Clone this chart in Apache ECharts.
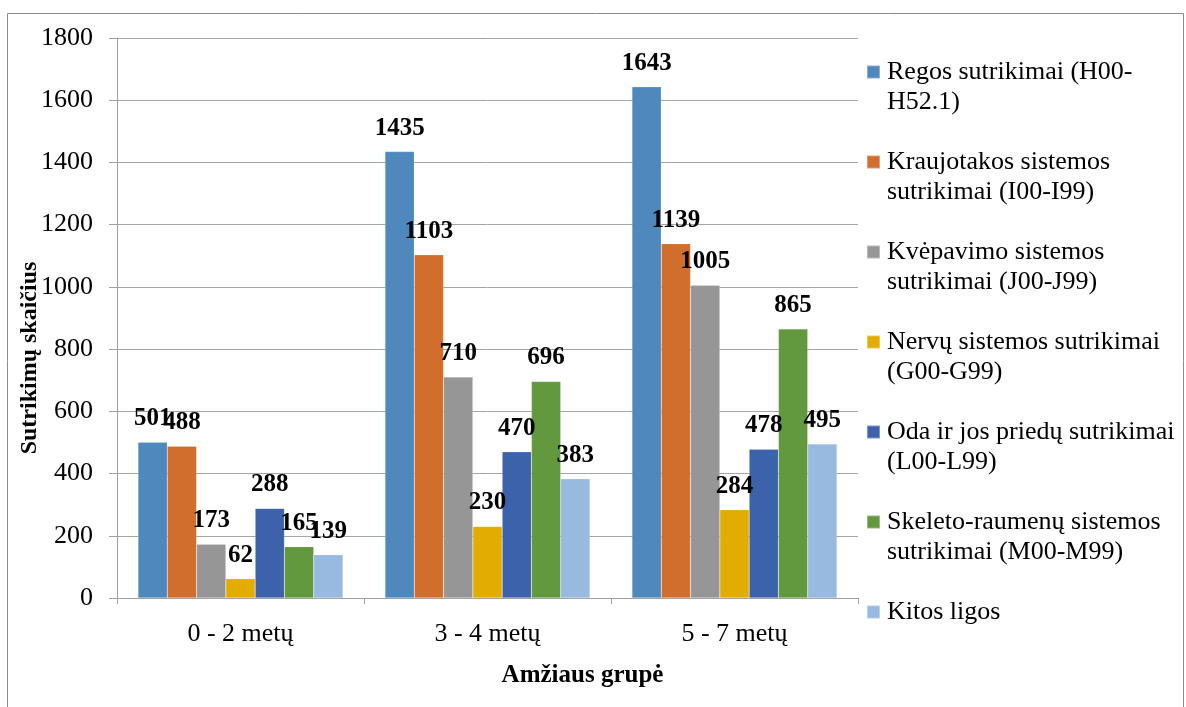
<!DOCTYPE html>
<html>
<head>
<meta charset="utf-8">
<style>
  html, body { margin: 0; padding: 0; background: #fff; }
  #chart { width: 1186px; height: 707px; }
</style>
<script src="https://cdn.jsdelivr.net/npm/echarts@6/dist/echarts.min.js"></script>
</head>
<body>
<div id="chart"></div>
<script>
// Age groups on the x axis
const ageGroups = ['0 - 2 metų', '3 - 4 metų', '5 - 7 metų'];

// Disorder groups (series names, line breaks as in the legend)
const seriesNames = [
  'Regos sutrikimai (H00-\nH52.1)',
  'Kraujotakos sistemos\nsutrikimai (I00-I99)',
  'Kvėpavimo sistemos\nsutrikimai (J00-J99)',
  'Nervų sistemos sutrikimai\n(G00-G99)',
  'Oda ir jos priedų sutrikimai\n(L00-L99)',
  'Skeleto-raumenų sistemos\nsutrikimai (M00-M99)',
  'Kitos ligos'
];

// Counts per age group, one array per disorder group
const regos       = [501, 1435, 1643];
const kraujotakos = [488, 1103, 1139];
const kvepavimo   = [173, 710, 1005];
const nervu       = [62, 230, 284];
const oda         = [288, 470, 478];
const skeleto     = [165, 696, 865];
const kitos       = [139, 383, 495];

const seriesValues = [regos, kraujotakos, kvepavimo, nervu, oda, skeleto, kitos];
const seriesColors = ['#4f88bd', '#d26e2c', '#969696', '#e2ac00', '#3d62ac', '#62983e', '#98b9e0'];

const yTitle = 'Sutrikimų skaičius';
const xTitle = 'Amžiaus grupė';

const FONT = '"Liberation Serif", "Times New Roman", serif';

const chart = echarts.init(document.getElementById('chart'), null, { renderer: 'canvas' });

const series = seriesValues.map((vals, i) => ({
  name: seriesNames[i],
  type: 'bar',
  data: vals,
  barGap: '0%',
  barCategoryGap: '17%',
  itemStyle: { color: seriesColors[i], borderColor: 'rgba(255,255,255,0.35)', borderWidth: 0.5 },
  label: {
    show: true,
    position: 'top',
    distance: 11,
    color: '#000',
    fontFamily: FONT,
    fontWeight: 'bold',
    fontSize: 25
  }
}));

// Legend entries: the first text line sits level with the colour square,
// so a blank line is added above (and below for one-line names) to keep it centred.
function legendText(name) {
  const lines = name.split('\n');
  return lines.length > 1 ? ' \n' + name : ' \n' + name + '\n ';
}

chart.setOption({
  animation: false,
  backgroundColor: '#fff',
  textStyle: { fontFamily: FONT },
  grid: { left: 117, right: 328, top: 38, bottom: 109 },
  legend: {
    orient: 'vertical',
    left: 866,
    top: 27,
    padding: 0,
    itemGap: 0,
    itemWidth: 13,
    itemHeight: 13,
    icon: 'rect',
    formatter: legendText,
    textStyle: {
      fontFamily: FONT,
      fontSize: 26,
      lineHeight: 30,
      color: '#000',
      padding: [0, 0, 0, 2]
    }
  },
  xAxis: {
    type: 'category',
    data: ageGroups,
    name: xTitle,
    nameLocation: 'middle',
    nameGap: 65,
    nameTextStyle: {
      fontFamily: FONT, fontWeight: 'bold', fontSize: 25, color: '#000',
      padding: [0, 0, 0, 190]
    },
    axisLine: { lineStyle: { color: '#a0a0a0', width: 1 } },
    axisTick: { show: true, length: 6, lineStyle: { color: '#a0a0a0' } },
    axisLabel: { fontFamily: FONT, fontSize: 26, color: '#000', margin: 23 }
  },
  yAxis: {
    type: 'value',
    min: 0,
    max: 1800,
    interval: 200,
    axisLine: { show: true, lineStyle: { color: '#a0a0a0', width: 1 } },
    axisTick: { show: true, length: 8, lineStyle: { color: '#a0a0a0' } },
    splitLine: { lineStyle: { color: '#a6a6a6', width: 1 } },
    axisLabel: {
      fontFamily: FONT, fontSize: 26, color: '#000', margin: 24,
      formatter: v => String(v)
    }
  },
  graphic: [
    {
      // chart frame
      type: 'rect',
      shape: { x: 7.5, y: 13.5, width: 1176, height: 720 },
      style: { fill: 'none', stroke: '#8c8c8c', lineWidth: 1 },
      silent: true,
      z: -1
    },
    {
      // vertical axis title
      type: 'text',
      x: 30,
      y: 358,
      rotation: Math.PI / 2,
      style: {
        text: yTitle,
        fontFamily: FONT,
        fontWeight: 'bold',
        fontSize: 24,
        fill: '#000',
        align: 'center',
        verticalAlign: 'middle'
      },
      silent: true
    }
  ],
  series: series
});
</script>
</body>
</html>
